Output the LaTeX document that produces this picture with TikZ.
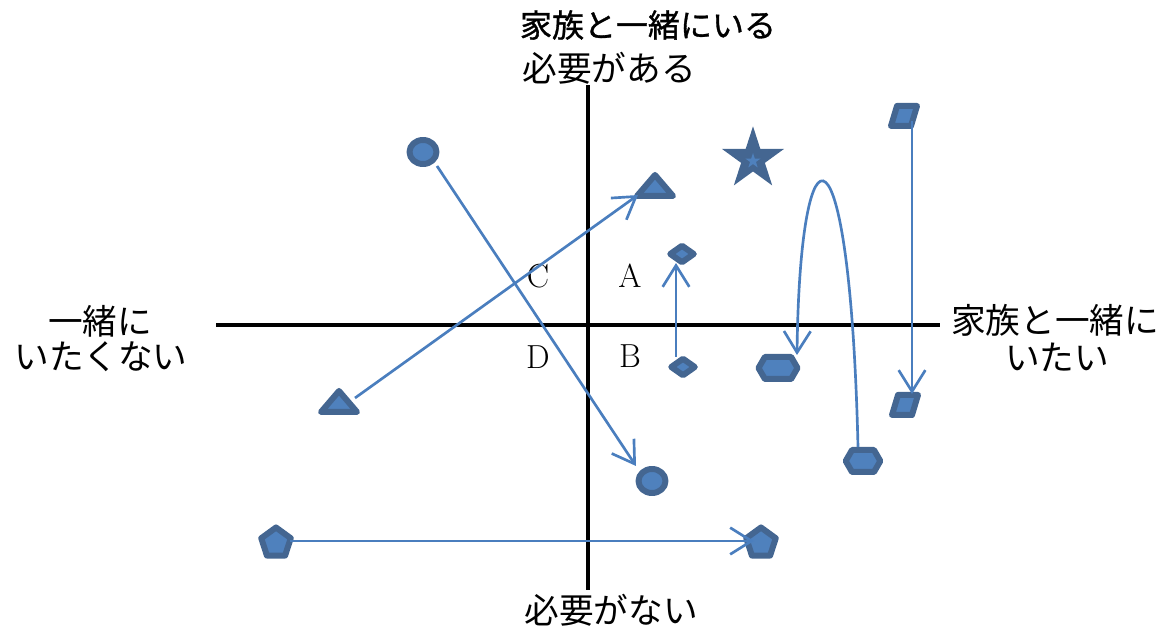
\documentclass[tikz,border=0pt]{standalone}
\usepackage{fontspec}
\newfontfamily\jp{Noto Sans CJK JP}
\usetikzlibrary{shapes.geometric,shapes.symbols,arrows.meta,calc}
\definecolor{dk}{RGB}{68,102,145}
\definecolor{lt}{RGB}{79,129,189}
\definecolor{ac}{RGB}{74,126,190}
\begin{document}
\begin{tikzpicture}[x=0.75pt,y=-0.75pt,
 mk/.style={draw=dk,fill=lt,line width=4.5pt,line join=round,inner sep=0pt},
 arr/.style={draw=ac,line width=2pt,-{Straight Barb[length=16pt,width=20pt]}},
 axis/.style={draw=black,line width=2.6pt},
 jl/.style={font=\jp\fontsize{26}{30}\selectfont,inner sep=0pt},
 jt/.style={font=\jp\fontsize{24}{28}\selectfont,inner sep=0pt},
 lat/.style={font=\fontsize{25}{29}\selectfont,inner sep=0pt}]
\useasboundingbox (0,0) rectangle (1168,630);
% axes
\coordinate (vt) at (588,85);
\coordinate (vb) at (588,590);
\coordinate (hl) at (216,325);
\coordinate (hr) at (940,325);
\draw[axis] (vt) -- (vb);
\draw[axis] (hl) -- (hr);
% labels
\node[jt] (top1) at (648,25) {\addfontfeatures{FakeBold=1}家族と一緒にいる};
\node[jl] (top2) at (609,68) {必要がある};
\node[jl] (bot) at (611,610) {必要がない};
\node[jl] (l1) at (100,321) {一緒に};
\node[jl] (l2) at (101,357) {いたくない};
\node[jl] (r1) at (1055,320) {家族と一緒に};
\node[jl] (r2) at (1057,357) {いたい};
\node[lat] (qa) at (630,276) {A};
\node[lat] (qb) at (630,356) {B};
\node[lat] (qc) at (538,276) {C};
\node[lat] (qd) at (538,357) {D};
% markers
\node[mk,ellipse,minimum width=20.25pt,minimum height=18pt] (c1) at (423,152) {};
\node[mk,ellipse,minimum width=20.25pt,minimum height=18pt] (c2) at (652,481) {};
\coordinate (t1) at (339,402);
\coordinate (t2) at (655,186);
\draw[mk] ($(t1)+(0,-11)$) -- ($(t1)+(18,10)$) -- ($(t1)+(-18,10)$) -- cycle;
\draw[mk] ($(t2)+(0,-11)$) -- ($(t2)+(18,10)$) -- ($(t2)+(-18,10)$) -- cycle;
\node[star,star points=5,star point ratio=2.618,minimum size=49pt,fill=dk,inner sep=0pt] (st) at (753,159) {};
\node[star,star points=5,star point ratio=2.618,minimum size=12pt,fill=lt,inner sep=0pt] (sti) at (753,161) {};
\node[mk,diamond,minimum width=19.5pt,minimum height=14.25pt] (d1) at (682,254) {};
\node[mk,diamond,minimum width=19.5pt,minimum height=14.25pt] (d2) at (683,367) {};
\node[mk,signal,signal to=east and west,signal pointer angle=120,minimum width=29.25pt,minimum height=16.5pt] (h1) at (778,368) {};
\node[mk,signal,signal to=east and west,signal pointer angle=120,minimum width=26pt,minimum height=16.5pt] (h2) at (863,461) {};
\coordinate (p1) at (904,116);
\coordinate (p2) at (905,405);
\draw[mk] ($(p1)+(-13,10)$) -- ($(p1)+(7,10)$) -- ($(p1)+(13,-10)$) -- ($(p1)+(-7,-10)$) -- cycle;
\draw[mk] ($(p2)+(-13,10)$) -- ($(p2)+(7,10)$) -- ($(p2)+(13,-10)$) -- ($(p2)+(-7,-10)$) -- cycle;
\node[mk,regular polygon,regular polygon sides=5,minimum size=23.25pt] (pe1) at (276,543) {};
\node[mk,regular polygon,regular polygon sides=5,minimum size=23.25pt] (pe2) at (761,543) {};
% connectors
\draw[arr] ($(c1)+(14,14)$) -- ($(c2)+(-16,-15)$);
\draw[arr] ($(t1)+(16,-4)$) -- ($(t2)+(-17,9)$);
\draw[arr] ($(d2)+(-7,-10)$) -- ($(d1)+(-6,9)$);
\draw[arr] ($(h2)+(-5,-14)$) .. controls (850,110) and (800,110) .. ($(h1)+(19,-13)$);
\draw[arr] ($(p1)+(8,5)$) -- ($(p2)+(7,-11)$);
\draw[arr] ($(pe1)+(14,-2)$) -- ($(pe2)+(-7,-2)$);
\end{tikzpicture}
\end{document}
